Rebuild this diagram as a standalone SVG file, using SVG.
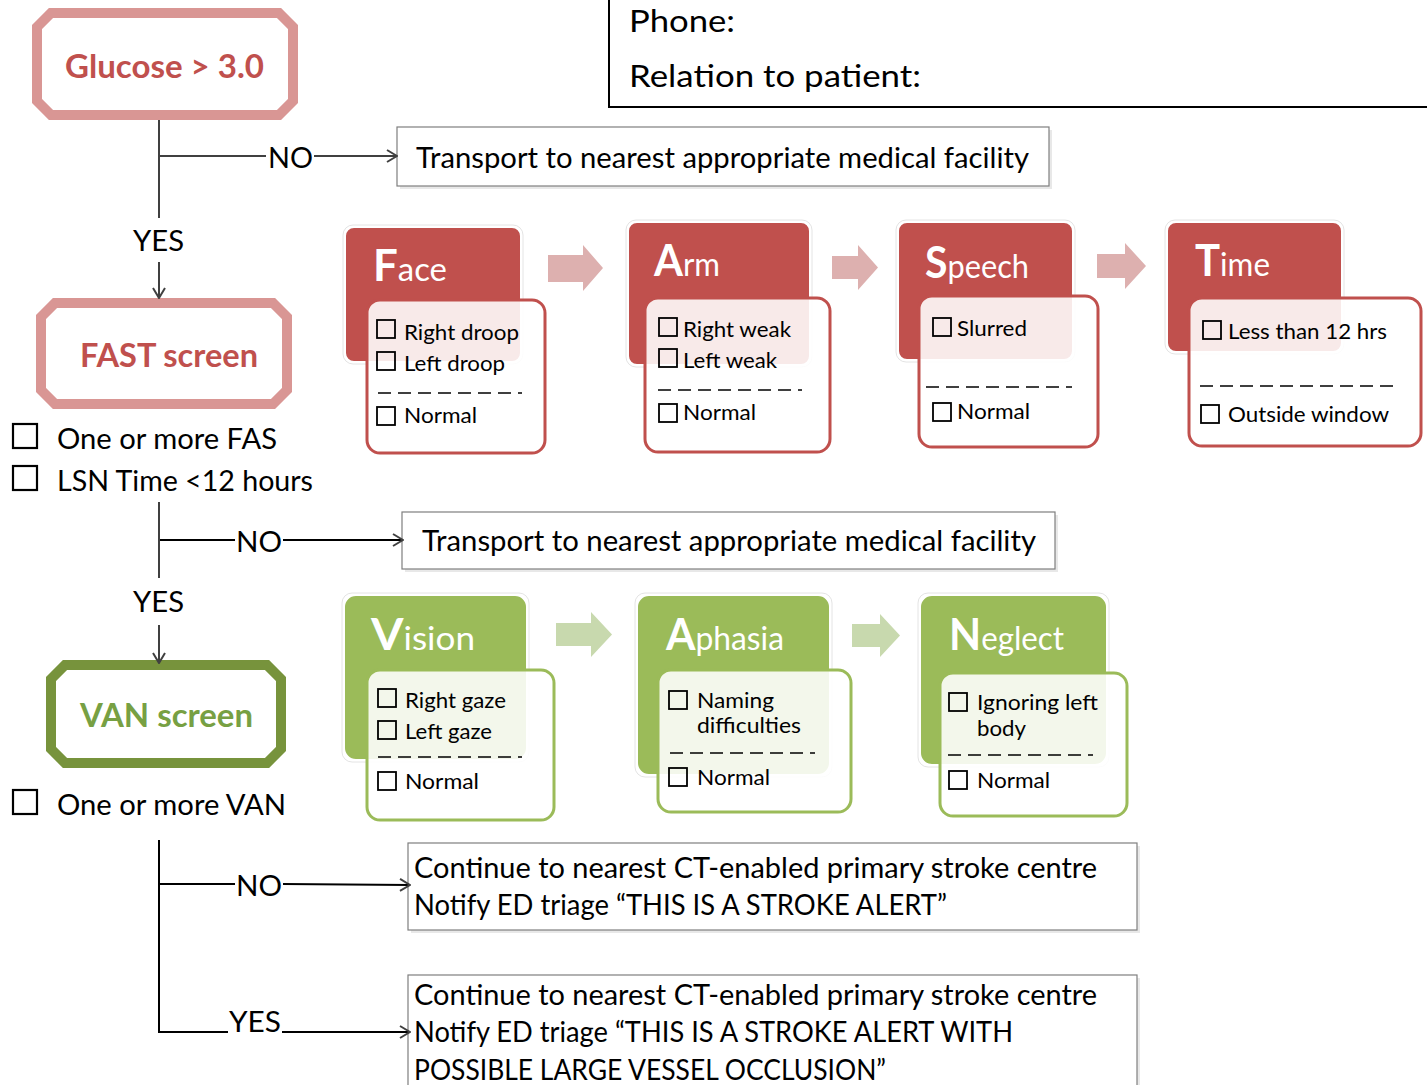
<svg xmlns="http://www.w3.org/2000/svg" width="1427" height="1085" viewBox="0 0 1427 1085">
<defs>
<style>
text{font-family:Lato,"Open Sans","Liberation Sans",sans-serif;fill:#000}
.oct{fill:#fff;stroke-width:10;stroke-linejoin:miter}
.red{stroke:#d99694}
.grn{stroke:#77933c}
.ttl{font-weight:bold;font-size:32px}
.lbl{font-size:28px}
.itm{font-size:22px}
.cb{fill:none;stroke:#000;stroke-width:1.8}
.conn{fill:none;stroke:#404040;stroke-width:2}
.box{fill:#fff;stroke:#7f7f7f;stroke-width:1.2}
.shadow{fill:#e8e8e8}
.hr{fill:#c0504d;stroke:#fff;stroke-width:2}
.hg{fill:#9bbb59;stroke:#fff;stroke-width:2}
.ho{fill:none;stroke:#e4e4e4;stroke-width:1}
.ir{fill:#fff;fill-opacity:0.88;stroke:#c0504d;stroke-width:3}
.ig{fill:#fff;fill-opacity:0.88;stroke:#9bbb59;stroke-width:3}
.dash{stroke:#000;stroke-width:1.5;stroke-dasharray:13,7}
.ct{fill:#fff;font-size:33px}
.ct .big{font-size:44px;font-weight:bold}
</style>
<marker id="arr" viewBox="0 0 12 14" refX="11" refY="7" markerWidth="12" markerHeight="14" markerUnits="userSpaceOnUse" orient="auto">
<path d="M1,1 L11,7 L1,13" fill="none" stroke="#404040" stroke-width="2"/>
</marker>
</defs>
<rect width="1427" height="1085" fill="#fff"/>

<g id="contact">
<path d="M609,0 V107 H1427" fill="none" stroke="#000" stroke-width="2"/>
<text x="629" y="32" style="font-size:30px" textLength="106" lengthAdjust="spacingAndGlyphs">Phone:</text>
<text x="629" y="87" style="font-size:30px" textLength="292" lengthAdjust="spacingAndGlyphs">Relation to patient:</text>
</g>

<g id="glucose">
<polygon class="oct red" points="51,13 279,13 293,27 293,101 279,115 51,115 37,101 37,27"/>
<text x="65" y="78" class="ttl" style="fill:#c0504d" textLength="199" lengthAdjust="spacingAndGlyphs">Glucose &gt; 3.0</text>
</g>

<g id="transport1">
<rect x="400" y="130" width="652" height="59" class="shadow"/>
<rect x="397" y="127" width="652" height="59" class="box"/>
<text x="416" y="168" class="lbl" textLength="613" lengthAdjust="spacingAndGlyphs">Transport to nearest appropriate medical facility</text>
</g>

<g id="fast">
<polygon class="oct red" points="55,303 273,303 287,317 287,390 273,404 55,404 41,390 41,317"/>
<text x="80" y="367" class="ttl" style="fill:#c0504d" textLength="178" lengthAdjust="spacingAndGlyphs">FAST screen</text>
</g>

<g id="fast-criteria">
<rect x="13" y="424" width="24" height="24" class="cb" style="stroke-width:2.2"/>
<text x="57" y="449" class="lbl" textLength="220" lengthAdjust="spacingAndGlyphs">One or more FAS</text>
<rect x="13" y="466" width="24" height="24" class="cb" style="stroke-width:2.2"/>
<text x="57" y="491" class="lbl" textLength="256" lengthAdjust="spacingAndGlyphs">LSN Time &lt;12 hours</text>
</g>

<g id="transport2">
<rect x="405" y="515" width="653" height="57" class="shadow"/>
<rect x="402" y="512" width="653" height="57" class="box"/>
<text x="422" y="551" class="lbl" textLength="614" lengthAdjust="spacingAndGlyphs">Transport to nearest appropriate medical facility</text>
</g>

<g id="van">
<polygon class="oct grn" points="65,665 267,665 281,679 281,749 267,763 65,763 51,749 51,679"/>
<text x="80" y="727" class="ttl" style="fill:#77a043" textLength="173" lengthAdjust="spacingAndGlyphs">VAN screen</text>
</g>

<g id="van-criteria">
<rect x="13" y="790" width="24" height="24" class="cb" style="stroke-width:2.2"/>
<text x="57" y="815" class="lbl" textLength="229" lengthAdjust="spacingAndGlyphs">One or more VAN</text>
</g>

<g id="stroke-alert">
<rect x="411" y="846" width="729" height="87" class="shadow"/>
<rect x="408" y="843" width="729" height="87" class="box"/>
<text x="414" y="878" class="lbl" style="font-size:29px" textLength="683" lengthAdjust="spacingAndGlyphs">Continue to nearest CT-enabled primary stroke centre</text>
<text x="414" y="915" class="lbl" style="font-size:29px" textLength="533" lengthAdjust="spacingAndGlyphs">Notify ED triage “THIS IS A STROKE ALERT”</text>
</g>

<g id="stroke-alert-lvo">
<rect x="411" y="978" width="729" height="110" class="shadow"/>
<rect x="408" y="975" width="729" height="112" class="box"/>
<text x="414" y="1005" class="lbl" style="font-size:29px" textLength="683" lengthAdjust="spacingAndGlyphs">Continue to nearest CT-enabled primary stroke centre</text>
<text x="414" y="1042" class="lbl" style="font-size:29px" textLength="599" lengthAdjust="spacingAndGlyphs">Notify ED triage “THIS IS A STROKE ALERT WITH</text>
<text x="414" y="1080" class="lbl" style="font-size:29px" textLength="472" lengthAdjust="spacingAndGlyphs">POSSIBLE LARGE VESSEL OCCLUSION”</text>
</g>

<g id="face">
<rect x="343" y="225" width="180" height="139" rx="10" class="ho"/>
<rect x="345" y="227" width="176" height="135" rx="9" class="hr"/>
<rect x="367" y="300" width="178" height="153" rx="13" class="ir"/>
<text x="373" y="281" class="ct" textLength="74" lengthAdjust="spacingAndGlyphs"><tspan class="big">F</tspan>ace</text>
<rect x="377" y="320" width="18" height="18" class="cb"/>
<text x="404" y="340" class="itm" textLength="115" lengthAdjust="spacingAndGlyphs">Right droop</text>
<rect x="377" y="352" width="18" height="18" class="cb"/>
<text x="404" y="371" class="itm" textLength="101" lengthAdjust="spacingAndGlyphs">Left droop</text>
<line x1="378" y1="393" x2="522" y2="393" class="dash"/>
<rect x="377" y="407" width="18" height="18" class="cb"/>
<text x="404" y="423" class="itm" textLength="73" lengthAdjust="spacingAndGlyphs">Normal</text>
</g>

<g id="arm">
<rect x="626" y="220" width="186" height="147" rx="10" class="ho"/>
<rect x="628" y="222" width="182" height="143" rx="9" class="hr"/>
<rect x="645" y="298" width="185" height="154" rx="13" class="ir"/>
<text x="654" y="276" class="ct" textLength="66" lengthAdjust="spacingAndGlyphs"><tspan class="big">A</tspan>rm</text>
<rect x="659" y="318" width="18" height="18" class="cb"/>
<text x="683" y="337" class="itm" textLength="108" lengthAdjust="spacingAndGlyphs">Right weak</text>
<rect x="659" y="349" width="18" height="18" class="cb"/>
<text x="683" y="368" class="itm" textLength="94" lengthAdjust="spacingAndGlyphs">Left weak</text>
<line x1="658" y1="390" x2="802" y2="390" class="dash"/>
<rect x="659" y="404" width="18" height="18" class="cb"/>
<text x="683" y="420" class="itm" textLength="73" lengthAdjust="spacingAndGlyphs">Normal</text>
</g>

<g id="speech">
<rect x="896" y="220" width="179" height="142" rx="10" class="ho"/>
<rect x="898" y="222" width="175" height="138" rx="9" class="hr"/>
<rect x="919" y="296" width="179" height="151" rx="13" class="ir"/>
<text x="925" y="278" class="ct" textLength="104" lengthAdjust="spacingAndGlyphs"><tspan class="big">S</tspan>peech</text>
<rect x="933" y="318" width="18" height="18" class="cb"/>
<text x="957" y="336" class="itm" textLength="70" lengthAdjust="spacingAndGlyphs">Slurred</text>
<line x1="926" y1="387" x2="1072" y2="387" class="dash"/>
<rect x="933" y="403" width="18" height="18" class="cb"/>
<text x="957" y="419" class="itm" textLength="73" lengthAdjust="spacingAndGlyphs">Normal</text>
</g>

<g id="time">
<rect x="1165" y="220" width="179" height="134" rx="10" class="ho"/>
<rect x="1167" y="222" width="175" height="130" rx="9" class="hr"/>
<rect x="1189" y="298" width="232" height="148" rx="13" class="ir"/>
<text x="1195" y="276" class="ct" textLength="75" lengthAdjust="spacingAndGlyphs"><tspan class="big">T</tspan>ime</text>
<rect x="1203" y="321" width="18" height="18" class="cb"/>
<text x="1228" y="339" class="itm" textLength="159" lengthAdjust="spacingAndGlyphs">Less than 12 hrs</text>
<line x1="1200" y1="386" x2="1398" y2="386" class="dash"/>
<rect x="1201" y="405" width="18" height="18" class="cb"/>
<text x="1228" y="422" class="itm" textLength="161" lengthAdjust="spacingAndGlyphs">Outside window</text>
</g>

<g id="vision">
<rect x="342" y="593" width="187" height="169" rx="10" class="ho"/>
<rect x="344" y="595" width="183" height="165" rx="12" class="hg"/>
<rect x="367" y="670" width="187" height="150" rx="13" class="ig"/>
<text x="371" y="650" class="ct" textLength="104" lengthAdjust="spacingAndGlyphs"><tspan class="big">V</tspan>ision</text>
<rect x="378" y="689" width="18" height="18" class="cb"/>
<text x="405" y="708" class="itm" textLength="101" lengthAdjust="spacingAndGlyphs">Right gaze</text>
<rect x="378" y="721" width="18" height="18" class="cb"/>
<text x="405" y="739" class="itm" textLength="87" lengthAdjust="spacingAndGlyphs">Left gaze</text>
<line x1="378" y1="757" x2="522" y2="757" class="dash"/>
<rect x="378" y="772" width="18" height="18" class="cb"/>
<text x="405" y="789" class="itm" textLength="74" lengthAdjust="spacingAndGlyphs">Normal</text>
</g>

<g id="aphasia">
<rect x="635" y="593" width="197" height="184" rx="10" class="ho"/>
<rect x="637" y="595" width="193" height="180" rx="12" class="hg"/>
<rect x="658" y="670" width="193" height="142" rx="13" class="ig"/>
<text x="666" y="650" class="ct" textLength="118" lengthAdjust="spacingAndGlyphs"><tspan class="big">A</tspan>phasia</text>
<rect x="669" y="691" width="18" height="18" class="cb"/>
<text x="697" y="708" class="itm" textLength="77" lengthAdjust="spacingAndGlyphs">Naming</text>
<text x="697" y="733" class="itm" textLength="104" lengthAdjust="spacingAndGlyphs">difficulties</text>
<line x1="670" y1="753" x2="815" y2="753" class="dash"/>
<rect x="669" y="768" width="18" height="18" class="cb"/>
<text x="697" y="785" class="itm" textLength="73" lengthAdjust="spacingAndGlyphs">Normal</text>
</g>

<g id="neglect">
<rect x="918" y="593" width="191" height="174" rx="10" class="ho"/>
<rect x="920" y="595" width="187" height="170" rx="12" class="hg"/>
<rect x="940" y="673" width="187" height="143" rx="13" class="ig"/>
<text x="949" y="650" class="ct" textLength="115" lengthAdjust="spacingAndGlyphs"><tspan class="big">N</tspan>eglect</text>
<rect x="949" y="693" width="18" height="18" class="cb"/>
<text x="977" y="710" class="itm" textLength="121" lengthAdjust="spacingAndGlyphs">Ignoring left</text>
<text x="977" y="736" class="itm" textLength="49" lengthAdjust="spacingAndGlyphs">body</text>
<line x1="948" y1="755" x2="1093" y2="755" class="dash"/>
<rect x="949" y="771" width="18" height="18" class="cb"/>
<text x="977" y="788" class="itm" textLength="73" lengthAdjust="spacingAndGlyphs">Normal</text>
</g>

<g id="connectors">
<path d="M548,255 H583 V245 L603,268 L583,291 V282 H548 Z" fill="#ddb0af"/>
<path d="M832,256 H858 V245 L878,267.5 L858,290 V279 H832 Z" fill="#ddb0af"/>
<path d="M1097,254 H1125 V243 L1146,266 L1125,289 V278 H1097 Z" fill="#ddb0af"/>
<path d="M556,623 H591 V612 L612,634.5 L591,657 V646 H556 Z" fill="#c8d9ae"/>
<path d="M852,624 H880 V614 L900,635.5 L880,657 V647 H852 Z" fill="#c8d9ae"/>

<line x1="159" y1="120" x2="159" y2="218" class="conn"/>
<line x1="159" y1="262" x2="159" y2="298" class="conn" marker-end="url(#arr)"/>
<line x1="160" y1="156" x2="266" y2="156" class="conn"/>
<line x1="314" y1="156" x2="397" y2="156" class="conn" marker-end="url(#arr)"/>
<text x="268" y="168" class="lbl" textLength="45" lengthAdjust="spacingAndGlyphs">NO</text>
<text x="133" y="251" class="lbl" textLength="51" lengthAdjust="spacingAndGlyphs">YES</text>

<line x1="159" y1="502" x2="159" y2="578" class="conn"/>
<line x1="159" y1="625" x2="159" y2="663" class="conn" marker-end="url(#arr)"/>
<line x1="160" y1="540" x2="235" y2="540" class="conn" style="stroke:#000"/>
<line x1="283" y1="540" x2="403" y2="540" class="conn" style="stroke:#000" marker-end="url(#arr)"/>
<text x="236" y="552" class="lbl" textLength="46" lengthAdjust="spacingAndGlyphs">NO</text>
<text x="133" y="612" class="lbl" textLength="51" lengthAdjust="spacingAndGlyphs">YES</text>

<path d="M159,840 V1032 H228" class="conn" style="stroke:#000"/>
<line x1="160" y1="884" x2="235" y2="884" class="conn" style="stroke:#000"/>
<line x1="283" y1="884" x2="410" y2="885" class="conn" style="stroke:#000" marker-end="url(#arr)"/>
<line x1="282" y1="1032" x2="410" y2="1032" class="conn" style="stroke:#000" marker-end="url(#arr)"/>
<text x="236" y="896" class="lbl" textLength="46" lengthAdjust="spacingAndGlyphs">NO</text>
<text x="229" y="1032" class="lbl" textLength="52" lengthAdjust="spacingAndGlyphs">YES</text>
</g>
</svg>
